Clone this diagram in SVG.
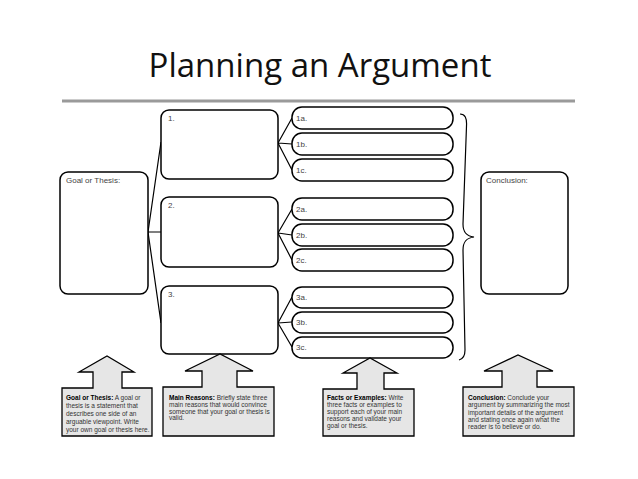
<svg xmlns="http://www.w3.org/2000/svg" width="638" height="479" viewBox="0 0 638 479">
<style>
.box{fill:#fff;stroke:#000;stroke-width:1.5}
.lbl{font-family:"Liberation Sans",Arial,sans-serif;font-size:8px;fill:#444}
.con{fill:none;stroke:#000;stroke-width:1.2}
.call{fill:#e6e6e6;stroke:#000;stroke-width:1.3}
.ct{font-family:"Liberation Sans",Arial,sans-serif;font-size:6.5px;fill:#333}
.ct .b{font-weight:bold;fill:#000}
</style>
<rect width="638" height="479" fill="#fff"/>
<text x="320" y="77" text-anchor="middle" font-family="Open Sans, Liberation Sans, sans-serif" font-size="33" fill="#111">Planning an Argument</text>
<line x1="62" y1="101" x2="575" y2="101" stroke="#9a9a9a" stroke-width="3"/>

<g id="connectors">
<path class="con" d="M148,232 L161,142 M148,232 H161 M148,232 L161,323"/>
<path class="con" d="M278,143 L292,118 M278,143 L292,144 M278,143 L292,170"/>
<path class="con" d="M278,233 L292,209 M278,233 L292,235 M278,233 L292,260"/>
<path class="con" d="M278,323 L292,297 M278,323 L292,322 M278,323 L292,347"/>
<path class="con" d="M460,114 C465,114 467,118 466.5,126 L463,224 C463,232 466,236 474,237 C466,238 463,242 463,250 L465,350 C465,356 463,359 459,360"/>
</g>

<g id="goal"><rect class="box" x="60" y="172" width="88" height="122" rx="8"/><text class="lbl" x="66" y="183">Goal or Thesis:</text></g>
<g id="reason1"><rect class="box" x="161" y="110" width="117" height="69" rx="8"/><text class="lbl" x="168" y="121">1.</text></g>
<g id="reason2"><rect class="box" x="161" y="197" width="117" height="70" rx="8"/><text class="lbl" x="168" y="208">2.</text></g>
<g id="reason3"><rect class="box" x="161" y="286" width="117" height="68" rx="8"/><text class="lbl" x="168" y="297">3.</text></g>

<g id="fact1a"><rect class="box" x="292" y="107" width="161" height="22" rx="10"/><text class="lbl" x="296" y="121">1a.</text></g>
<g id="fact1b"><rect class="box" x="292" y="133" width="161" height="22" rx="10"/><text class="lbl" x="296" y="147">1b.</text></g>
<g id="fact1c"><rect class="box" x="292" y="159" width="161" height="22" rx="10"/><text class="lbl" x="296" y="173">1c.</text></g>
<g id="fact2a"><rect class="box" x="292" y="198" width="161" height="22" rx="10"/><text class="lbl" x="296" y="212">2a.</text></g>
<g id="fact2b"><rect class="box" x="292" y="224" width="161" height="22" rx="10"/><text class="lbl" x="296" y="238">2b.</text></g>
<g id="fact2c"><rect class="box" x="292" y="249" width="161" height="22" rx="10"/><text class="lbl" x="296" y="263">2c.</text></g>
<g id="fact3a"><rect class="box" x="292" y="287" width="161" height="21" rx="10"/><text class="lbl" x="296" y="300">3a.</text></g>
<g id="fact3b"><rect class="box" x="292" y="312" width="161" height="21" rx="10"/><text class="lbl" x="296" y="325">3b.</text></g>
<g id="fact3c"><rect class="box" x="292" y="337" width="161" height="21" rx="10"/><text class="lbl" x="296" y="350">3c.</text></g>

<g id="conclusion"><rect class="box" x="481" y="172" width="87" height="122" rx="8"/><text class="lbl" x="486" y="183">Conclusion:</text></g>

<g id="callout-goal">
<path class="call" d="M62,388 H93 V372 H79 L107,356 L134,372 H122 V388 H152 V436 H62 Z"/>
<text class="ct" x="66" y="400"><tspan class="b">Goal or Thesis:</tspan> A goal or</text>
<text class="ct" x="66" y="408">thesis is a statement that</text>
<text class="ct" x="66" y="416">describes one side of an</text>
<text class="ct" x="66" y="424">arguable viewpoint. Write</text>
<text class="ct" x="66" y="432">your own goal or thesis here.</text>
</g>
<g id="callout-reasons">
<path class="call" d="M163,387 H202 V371 H185 L220,354 L253,371 H237 V387 H274 V436 H163 Z"/>
<text class="ct" x="169" y="400"><tspan class="b">Main Reasons:</tspan> Briefly state three</text>
<text class="ct" x="169" y="406.8">main reasons that would convince</text>
<text class="ct" x="169" y="413.6">someone that your goal or thesis is</text>
<text class="ct" x="169" y="420.4">valid.</text>
</g>
<g id="callout-facts">
<path class="call" d="M323,389 H357 V373 H343 L370,358 L397,373 H384 V389 H414 V436 H323 Z"/>
<text class="ct" x="327" y="400"><tspan class="b">Facts or Examples:</tspan> Write</text>
<text class="ct" x="327" y="407">three facts or examples to</text>
<text class="ct" x="327" y="414">support each of your main</text>
<text class="ct" x="327" y="421">reasons and validate your</text>
<text class="ct" x="327" y="428">goal or thesis.</text>
</g>
<g id="callout-conclusion">
<path class="call" d="M463,387 H502 V371 H484 L518,355 L553,371 H537 V387 H574 V436 H463 Z"/>
<text class="ct" x="468" y="400"><tspan class="b">Conclusion:</tspan> Conclude your</text>
<text class="ct" x="468" y="407.3">argument by summarizing the most</text>
<text class="ct" x="468" y="414.6">important details of the argument</text>
<text class="ct" x="468" y="421.9">and stating once again what the</text>
<text class="ct" x="468" y="429.2">reader is to believe or do.</text>
</g>
</svg>
